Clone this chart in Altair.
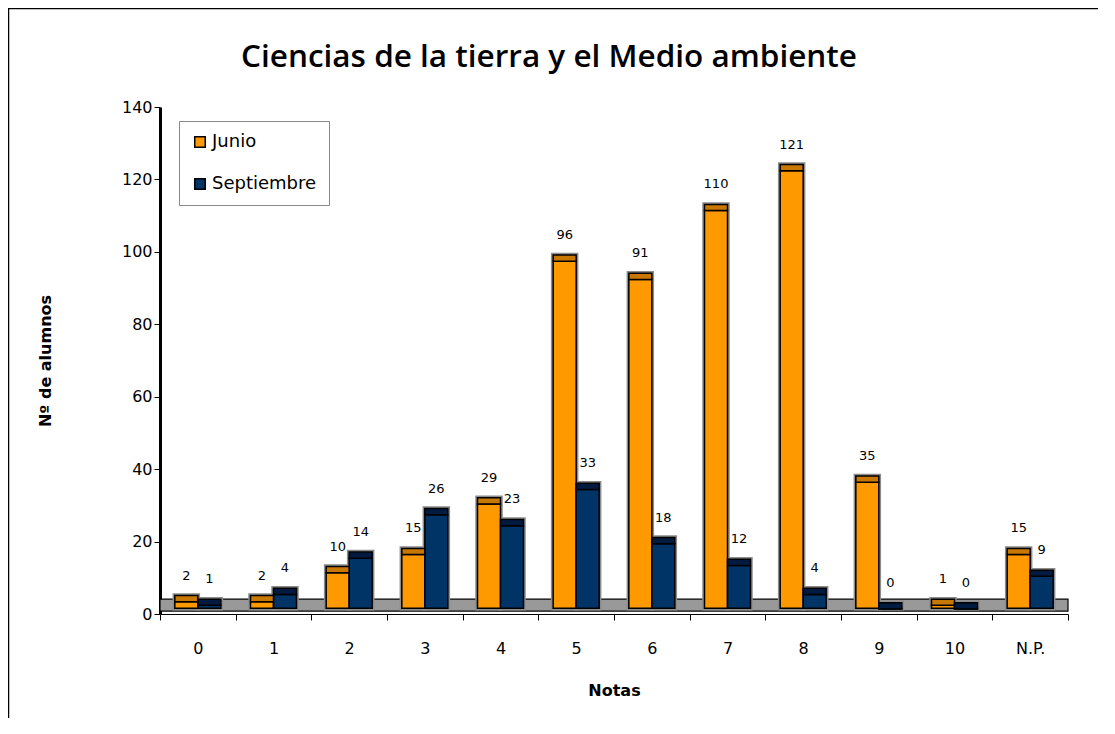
import altair as alt
import pandas as pd

notas = ["0", "1", "2", "3", "4", "5", "6", "7", "8", "9", "10", "N.P."]
junio = [2, 2, 10, 15, 29, 96, 91, 110, 121, 35, 1, 15]
septiembre = [1, 4, 14, 26, 23, 33, 18, 12, 4, 0, 0, 9]
series = ["Junio", "Septiembre"]
fill_colors = ["#FF9900", "#003366"]
cap_colors = ["#C87800", "#001A40"]
title_text = "Ciencias de la tierra y el Medio ambiente"

rows = []
for n, j, s in zip(notas, junio, septiembre):
    rows.append({"Nota": n, "Serie": "Junio", "v": j})
    rows.append({"Nota": n, "Serie": "Septiembre", "v": s})
df = pd.DataFrame(rows)

W, H = 908, 507
PL, PT = 152, 99
TOTW, TOTH = 1090, 710

xscale = alt.Scale(paddingInner=0, paddingOuter=0)
xaxis = alt.Axis(labelAngle=0, tickBand="extent", labelFontSize=16,
                 labelPadding=20, titleFontSize=16, titleFontWeight="bold",
                 titlePadding=26, domainColor="black", tickColor="black",
                 tickSize=6, labelColor="black", titleColor="black",
                 labelFont="DejaVu Sans", titleFont="DejaVu Sans")
yaxis = alt.Axis(values=list(range(0, 141, 20)), grid=False, labelFontSize=16,
                 titleFontSize=16, titleFontWeight="bold", titlePadding=68,
                 domainColor="black", domainWidth=3, tickColor="black",
                 tickSize=6, labelColor="black", titleColor="black",
                 labelFont="DejaVu Sans", titleFont="DejaVu Sans")
xenc = alt.X("Nota:N", sort=notas, title="Notas", scale=xscale, axis=xaxis)
xoff = alt.XOffset("Serie:N", sort=series,
                   scale=alt.Scale(paddingInner=0, paddingOuter=0.645))
yscale = alt.Scale(domain=[0, 140], nice=False)

base = alt.Chart(df).transform_calculate(
    base="1.6", top="datum.v + 1.4", cap="datum.v + 3.1"
)

one = pd.DataFrame({"a": [0]})
border_top = alt.Chart(one).mark_rule(color="black", strokeWidth=1.5).encode(
    x=alt.value(-PL), x2=alt.value(W + 300), y=alt.value(-PT + 0.5))
border_left = alt.Chart(one).mark_rule(color="black", strokeWidth=1.5).encode(
    x=alt.value(-PL + 0.5), y=alt.value(-PT), y2=alt.value(H + 300))

title = alt.Chart(pd.DataFrame({"t": [title_text]})).mark_text(
    fontSize=31.5, font="Open Sans", fontWeight=600, color="black",
    align="center", baseline="middle"
).encode(x=alt.value(389), y=alt.value(-49), text="t:N")

floor = alt.Chart(one).mark_rect(
    fill="#999999", stroke="black", strokeWidth=1.2
).encode(x=alt.value(0), x2=alt.value(W), y=alt.datum(0.8, scale=yscale), y2=alt.datum(4.1))

shadow = base.mark_bar(fill="#8C8C8C", stroke="#8C8C8C", strokeWidth=4.5).encode(
    x=xenc, xOffset=xoff,
    y=alt.Y("cap:Q", scale=yscale, title="Nº de alumnos", axis=yaxis), y2="base:Q",
)

bars = base.mark_bar(stroke="black", strokeWidth=1.5).encode(
    x=xenc, xOffset=xoff,
    y=alt.Y("top:Q", scale=yscale, title="Nº de alumnos", axis=yaxis),
    y2="base:Q",
    color=alt.Color("Serie:N", sort=series,
                    scale=alt.Scale(domain=series, range=fill_colors),
                    legend=alt.Legend(title=None, orient="none", legendX=19, legendY=14,
                                      labelFontSize=18, labelFont="DejaVu Sans",
                                      labelColor="black", symbolType="square",
                                      symbolSize=110, symbolStrokeColor="black",
                                      symbolStrokeWidth=1.5, rowPadding=24,
                                      padding=12, strokeColor="#888888",
                                      fillColor="white", labelOffset=3,
                                      labelExpr="datum.label == 'Junio' ? '\u00a0Junio' : datum.label",
                                      symbolOpacity=1)),
)

caps = base.mark_bar(stroke="black", strokeWidth=1.5).encode(
    x=xenc, xOffset=xoff,
    y=alt.Y("cap:Q", scale=yscale, title="Nº de alumnos", axis=yaxis), y2="top:Q",
    fill=alt.Fill("Serie:N", sort=series, scale=alt.Scale(domain=series, range=cap_colors),
                  legend=None),
)

labels = base.mark_text(fontSize=13, font="DejaVu Sans", color="black",
                        baseline="middle", dy=-20).encode(
    x=xenc, xOffset=xoff,
    y=alt.Y("cap:Q", scale=yscale, title="Nº de alumnos", axis=yaxis),
    text="v:Q",
)

chart = alt.layer(border_top, border_left, title, floor, shadow, bars, caps, labels).resolve_scale(
    fill="independent", color="independent"
).properties(
    width=W, height=H,
    autosize=alt.AutoSizeParams(type="none"),
    padding={"left": PL, "top": PT, "right": TOTW - PL - W, "bottom": TOTH - PT - H},
).configure_view(stroke=None)

chart.save("out.html", embed_options={"renderer": "svg", "actions": False})
